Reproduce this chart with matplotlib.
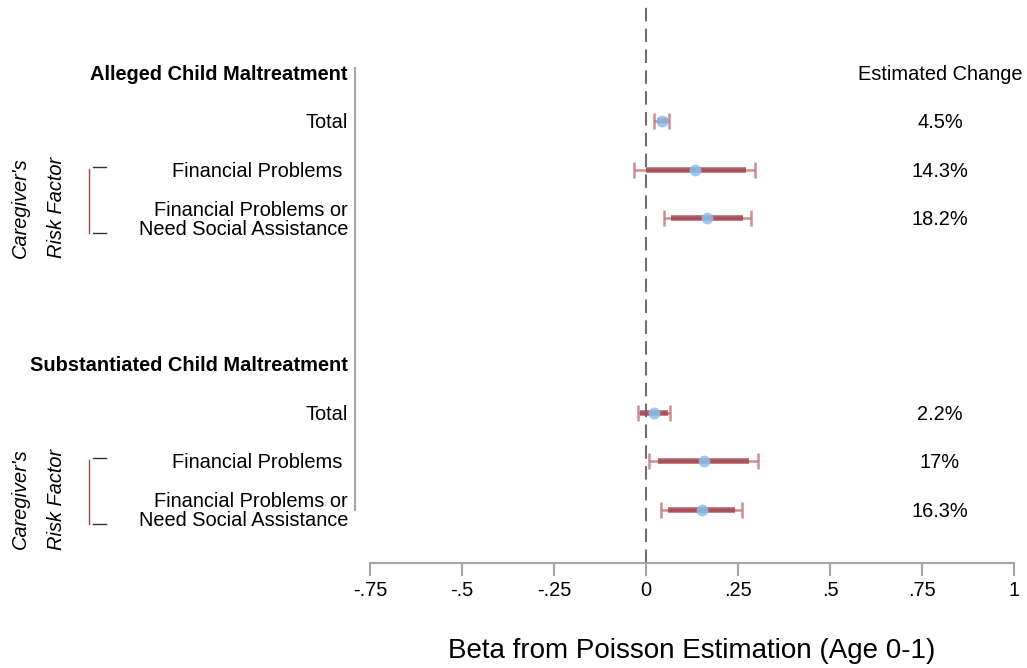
import matplotlib.pyplot as plt
import matplotlib.transforms as mtransforms
import numpy as np

plt.rcParams['font.family'] = ['Liberation Sans', 'DejaVu Sans']

FONT_SIZE = 14.4

# rows, top to bottom (0 = first header)
labels = ['Total', 'Financial Problems ', 'Financial Problems or\nNeed Social Assistance',
          'Total', 'Financial Problems ', 'Financial Problems or\nNeed Social Assistance']
rows = [1, 2, 3, 7, 8, 9]
headers = ['Alleged Child Maltreatment', 'Substantiated Child Maltreatment']
header_rows = [0, 6]

beta = [0.044, 0.134, 0.167, 0.022, 0.157, 0.151]
ci95_lo = [0.023, -0.032, 0.049, -0.023, 0.007, 0.041]
ci95_hi = [0.063, 0.297, 0.284, 0.064, 0.305, 0.260]
ci90_lo = [0.029, 0.000, 0.068, -0.016, 0.032, 0.059]
ci90_hi = [0.061, 0.271, 0.264, 0.061, 0.281, 0.242]
pct = ['4.5%', '14.3%', '18.2%', '2.2%', '17%', '16.3%']

xticks = [-0.75, -0.5, -0.25, 0, 0.25, 0.5, 0.75, 1]
xticklabels = ['-.75', '-.5', '-.25', '0', '.25', '.5', '.75', '1']

W, H = 1027, 668
fig = plt.figure(figsize=(W / 100, H / 100), dpi=100)
ax = fig.add_axes([370 / W, 1 - 563 / H, (1014 - 370) / W, (563 - 5) / H])

ax.set_xlim(-0.75, 1)
ax.set_ylim(10.10, -1.40)

ax.axvline(0, color='#707070', lw=1.5, dashes=(6.5, 3.5), zorder=1)

red = '#a3444f'
ax.errorbar(beta, rows, xerr=[np.subtract(beta, ci95_lo), np.subtract(ci95_hi, beta)],
            fmt='none', ecolor='#c27a80', elinewidth=1.8, capsize=5.5, capthick=1.8,
            alpha=0.85, zorder=2)
ax.hlines(rows, ci90_lo, ci90_hi, color=red, lw=4, alpha=0.85, zorder=3)
ax.plot(beta, rows, 'o', color='#8cc0ea', ms=8.5, alpha=0.85, mec='none', zorder=4)

gray = '#a6a6a6'
for s in ['top', 'right']:
    ax.spines[s].set_visible(False)
ax.spines['left'].set_position(('outward', 10.8))
ax.spines['left'].set_bounds(-0.1, 9.0)
ax.spines['left'].set_color(gray)
ax.spines['left'].set_linewidth(1.5)
ax.spines['bottom'].set_color(gray)
ax.spines['bottom'].set_linewidth(1.5)
ax.set_yticks([])
ax.set_xticks(xticks)
ax.set_xticklabels(xticklabels, fontsize=FONT_SIZE)
ax.tick_params(axis='x', length=9, width=1.5, color=gray, pad=4)
ax.set_xlabel('Beta from Poisson Estimation (Age 0-1)', fontsize=20, labelpad=27)

# labels on the left, change column on the right
tr = mtransforms.blended_transform_factory(fig.transFigure, ax.transData)
for r, lab in zip(rows, labels):
    ax.text(348 / W, r + 0.03, lab, transform=tr, ha='right', va='center',
            fontsize=FONT_SIZE, linespacing=1.05)
for r, h in zip(header_rows, headers):
    ax.text(348 / W, r + 0.03, h, transform=tr, ha='right', va='center',
            fontsize=FONT_SIZE, fontweight='bold')
ax.text(940 / W, 0.03, 'Estimated Change', transform=tr, ha='center', va='center',
        fontsize=FONT_SIZE)
for r, p in zip(rows, pct):
    ax.text(940 / W, r + 0.03, p, transform=tr, ha='center', va='center',
            fontsize=FONT_SIZE)

# risk factor brackets
for r0 in [2, 8]:
    ax.plot([89 / W, 89 / W], [r0 - 0.02, r0 + 1.3], transform=tr, color='#a3444f',
            lw=1, clip_on=False)
    for yy in [r0 - 0.06, r0 + 1.3]:
        ax.plot([93 / W, 106 / W], [yy, yy], transform=tr, color='#333333', lw=1,
                clip_on=False)
    ax.text(20 / W, r0 + 0.78, "Caregiver's", transform=tr, rotation=90, ha='center',
            va='center', fontsize=FONT_SIZE, style='italic')
    ax.text(57 / W, r0 + 0.78, 'Risk Factor', transform=tr, rotation=90, ha='center',
            va='center', fontsize=FONT_SIZE, style='italic')

plt.savefig('out.png', dpi=100)
